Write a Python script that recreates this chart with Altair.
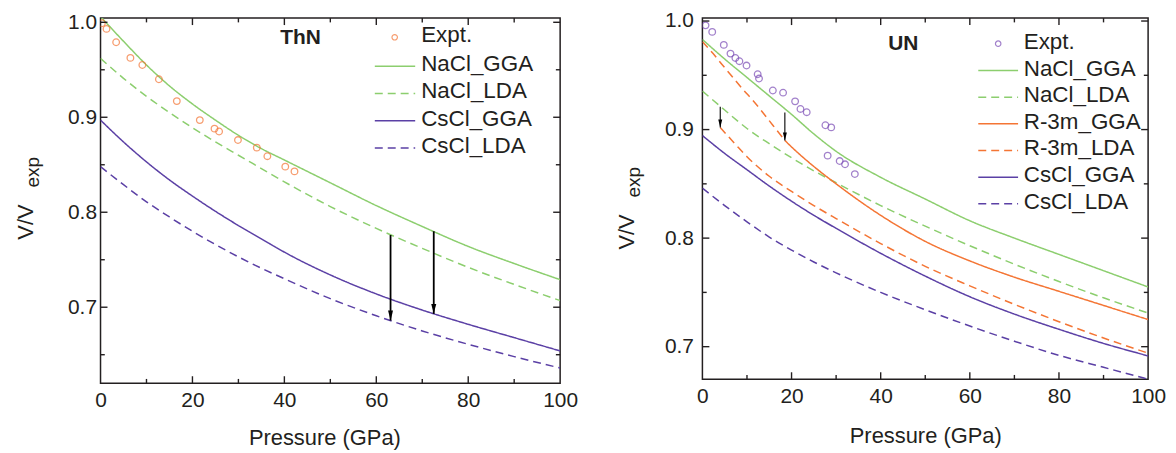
import altair as alt
import pandas as pd

FONT = "Liberation Sans, Arial, Helvetica, sans-serif"
INK = "#231f20"
GREEN = "#8cce6e"
ORANGE = "#f47534"
PURPLE = "#5b40a5"
PURPLE_PT = "#7b4cb6"

# ---------------- ThN data ----------------
thn_grid = [0, 5, 10, 15, 20, 25, 30, 35, 40, 50, 60, 70, 80, 90, 100]
thn_nacl_gga = [1.006, 0.980, 0.955, 0.933, 0.914, 0.897, 0.881, 0.867, 0.855, 0.831, 0.807, 0.785, 0.764, 0.746, 0.729]
thn_nacl_lda = [0.962, 0.941, 0.922, 0.905, 0.889, 0.874, 0.860, 0.846, 0.832, 0.806, 0.783, 0.762, 0.742, 0.724, 0.707]
thn_cscl_gga = [0.897, 0.874, 0.853, 0.834, 0.817, 0.801, 0.786, 0.772, 0.758, 0.734, 0.714, 0.697, 0.682, 0.668, 0.654]
thn_cscl_lda = [0.848, 0.829, 0.811, 0.795, 0.780, 0.766, 0.753, 0.741, 0.730, 0.709, 0.691, 0.675, 0.661, 0.648, 0.636]
thn_expt_p = [0.3, 1.3, 3.4, 6.5, 9.1, 12.7, 16.6, 21.6, 24.8, 25.8, 29.9, 34.0, 36.3, 40.2, 42.2]
thn_expt_v = [0.999, 0.993, 0.979, 0.9625, 0.955, 0.940, 0.917, 0.897, 0.888, 0.885, 0.876, 0.868, 0.859, 0.848, 0.843]
thn_arrow_p = [63.1, 72.5]
thn_arrow_from = [0.776, 0.780]
thn_arrow_to = [0.686, 0.693]

# ---------------- UN data ----------------
un_grid = [0, 5, 10, 15, 20, 25, 30, 40, 50, 60, 70, 80, 90, 100]
un_nacl_gga = [0.983, 0.965, 0.948, 0.931, 0.914, 0.896, 0.880, 0.856, 0.836, 0.816, 0.800, 0.785, 0.770, 0.755]
un_nacl_lda = [0.9355, 0.918, 0.901, 0.887, 0.874, 0.862, 0.851, 0.830, 0.811, 0.793, 0.776, 0.760, 0.745, 0.731]
un_r3m_gga_p = [18.5, 20, 25, 30, 40, 50, 60, 70, 80, 90, 100]
un_r3m_gga = [0.890, 0.884, 0.866, 0.850, 0.821, 0.797, 0.779, 0.764, 0.751, 0.738, 0.725]
un_r3m_low_p = [0, 2.4, 4.6, 6.85, 9.1, 11.3, 13.5, 15.8, 18.5]
un_r3m_low = [0.981, 0.970, 0.959, 0.948, 0.937, 0.927, 0.916, 0.904, 0.890]
un_r3m_lda_p = [4, 7.5, 10, 15, 20, 25, 30, 40, 50, 60, 70, 80, 90, 100]
un_r3m_lda = [0.902, 0.886, 0.875, 0.857, 0.843, 0.830, 0.818, 0.795, 0.774, 0.756, 0.739, 0.723, 0.708, 0.694]
un_cscl_gga = [0.8945, 0.878, 0.863, 0.848, 0.834, 0.821, 0.809, 0.786, 0.765, 0.746, 0.730, 0.716, 0.703, 0.6915]
un_cscl_lda = [0.846, 0.830, 0.815, 0.801, 0.789, 0.778, 0.768, 0.750, 0.734, 0.719, 0.705, 0.692, 0.681, 0.670]
un_expt_p = [0.7, 2.2, 4.8, 6.3, 7.4, 8.3, 9.9, 12.4, 12.7, 15.8, 18.1, 20.8, 22.0, 23.4, 27.6, 28.9, 28.1, 30.8, 32.0, 34.2]
un_expt_v = [0.996, 0.990, 0.978, 0.970, 0.966, 0.963, 0.959, 0.951, 0.947, 0.936, 0.934, 0.926, 0.919, 0.916, 0.904, 0.902, 0.876, 0.871, 0.868, 0.859]
un_arrow_p = [4.0, 18.5]
un_arrow_from = [0.921, 0.9157]
un_arrow_to = [0.902, 0.890]

x_major = [20, 40, 60, 80]
x_minor = [10, 30, 50, 70, 90]
x_labels = [0, 20, 40, 60, 80, 100]
y_labels = [0.7, 0.8, 0.9, 1.0]
thn_y_minor = [0.65, 0.75, 0.85, 0.95]
un_y_minor = [0.75, 0.85, 0.95]

STYLE = {
    "NaCl_GGA": (GREEN, False),
    "NaCl_LDA": (GREEN, True),
    "R-3m_GGA": (ORANGE, False),
    "R-3m_GGA_low": (ORANGE, True),
    "R-3m_LDA": (ORANGE, True),
    "CsCl_GGA": (PURPLE, False),
    "CsCl_LDA": (PURPLE, True),
}
ALL_NAMES = list(STYLE)
DASH = [8, 5]


def panel(curves, expt_p, expt_v, expt_color, arrow_p, arrow_from, arrow_to,
          legend_items, name, y_minor, g):
    W, H = g["W"], g["H"]
    y0, y1 = g["ydom"]
    xs = alt.Scale(domain=[0, 100], nice=False, zero=False)
    ys = alt.Scale(domain=g["ydom"], nice=False, zero=False)
    xax = alt.Axis(values=x_labels, title="Pressure (GPa)", orient="bottom", labelPadding=g["xlp"],
                   titlePadding=g["xtp"], titleX=g["ttx"], ticks=False, tickSize=0, domain=False,
                   grid=False, labelFlush=False, labelOverlap=False)
    yax = alt.Axis(values=y_labels, format=".1f", title=None, orient="left", labelPadding=g["ylp"],
                   ticks=False, tickSize=0, domain=False, grid=False, labelFlush=False,
                   labelOverlap=False)

    def X(f):
        return alt.X(f, scale=xs, axis=None)

    def Y(f):
        return alt.Y(f, scale=ys, axis=None)

    rows = []
    for s, (ps, vs) in curves.items():
        rows += [{"series": s, "P": p, "V": v} for p, v in zip(ps, vs)]
    line_df = pd.DataFrame(rows)
    colors = [STYLE[n][0] for n in ALL_NAMES]
    dashes = [DASH if STYLE[n][1] else [1, 0] for n in ALL_NAMES]

    layers = []
    lines = alt.Chart(line_df).mark_line(strokeWidth=1.5, clip=True, interpolate="monotone").encode(
        x=alt.X("P:Q", scale=xs, axis=xax), y=alt.Y("V:Q", scale=ys, axis=yax),
        color=alt.Color("series:N", scale=alt.Scale(domain=ALL_NAMES, range=colors), legend=None),
        strokeDash=alt.StrokeDash("series:N", scale=alt.Scale(domain=ALL_NAMES, range=dashes), legend=None),
        detail="series:N",
    )
    layers.append(lines)

    pts = alt.Chart(pd.DataFrame({"P": expt_p, "V": expt_v})).mark_point(
        shape="circle", filled=False, size=44, strokeWidth=1.3, color=expt_color, clip=True
    ).encode(x=X("P:Q"), y=Y("V:Q"))
    layers.append(pts)

    adf = pd.DataFrame({"P": arrow_p, "V1": arrow_from, "V2": arrow_to})
    shafts = alt.Chart(adf).mark_rule(color="black", strokeWidth=g["aw"]).encode(
        x=X("P:Q"), y=Y("V1:Q"), y2="V2:Q")
    heads = alt.Chart(adf).mark_point(shape="M-1,-4L1,-4L0,0Z", filled=True, color="black",
                                      opacity=1, size=g["hs"]).encode(x=X("P:Q"), y=Y("V2:Q"))
    layers += [shafts, heads]

    # inward ticks on all four sides
    def xt(vals, ya, yb):
        return alt.Chart(pd.DataFrame({"t": vals})).mark_rule(color=INK, strokeWidth=1.4).encode(
            x=X("t:Q"), y=alt.value(ya), y2=alt.value(yb))

    def yt(vals, xa, xb):
        return alt.Chart(pd.DataFrame({"t": vals})).mark_rule(color=INK, strokeWidth=1.4).encode(
            y=Y("t:Q"), x=alt.value(xa), x2=alt.value(xb))

    MJ, MN = 7, 4.3
    ymaj = [v for v in y_labels if v < y1 - 0.002]
    layers += [xt(x_major, H, H - MJ), xt(x_minor, H, H - MN),
               xt(x_major, 0, MJ), xt(x_minor, 0, MN),
               yt(ymaj, 0, MJ), yt(y_minor, 0, MN),
               yt(ymaj, W, W - MJ), yt(y_minor, W, W - MN)]

    # legend
    for i, item in enumerate(legend_items):
        ly = g["lfirst"] if i == 0 else g["l1"] + (i - 1) * g["ldy"]
        one = pd.DataFrame({"label": [item]})
        if item == "Expt.":
            layers.append(alt.Chart(one).mark_point(shape="circle", filled=False, size=30,
                                                    strokeWidth=1.2, color=expt_color).encode(
                x=alt.value(g["lcx"]), y=alt.value(ly)))
        else:
            col, dashed = STYLE[item]
            layers.append(alt.Chart(one).mark_rule(color=col, strokeWidth=1.5,
                                                   strokeDash=DASH if dashed else [1, 0]).encode(
                x=alt.value(g["lx0"]), x2=alt.value(g["lx1"]), y=alt.value(ly)))
        layers.append(alt.Chart(one).mark_text(align="left", baseline="middle", font=FONT,
                                               fontSize=22.5, color=INK).encode(
            x=alt.value(g["ltx"]), y=alt.value(ly - 2), text="label:N"))

    # panel name
    layers.append(alt.Chart(pd.DataFrame({"label": [name]})).mark_text(
        align="center", baseline="middle", font=FONT, fontSize=21, fontWeight="bold", color=INK
    ).encode(x=alt.value(g["nx"]), y=alt.value(g["ny"]), text="label:N"))

    # y title V/V_exp
    layers.append(alt.Chart(pd.DataFrame({"label": ["V/V"]})).mark_text(
        angle=270, align="center", baseline="alphabetic", font=FONT, fontSize=22, color=INK
    ).encode(x=alt.value(g["tvx"]), y=alt.value(g["tvy"]), text="label:N"))
    layers.append(alt.Chart(pd.DataFrame({"label": ["exp"]})).mark_text(
        angle=270, align="center", baseline="alphabetic", font=FONT, fontSize=19, color=INK
    ).encode(x=alt.value(g["tex"]), y=alt.value(g["tey"]), text="label:N"))

    return alt.layer(*layers).resolve_axis(x="independent", y="independent").properties(
        width=W, height=H)


TOP = 17  # page y of both plot tops
g_left = dict(W=462, H=367, ydom=[0.62, 1.0044], xlp=6, xtp=18, ttx=225, ylp=4, aw=1.8, hs=25,
              lfirst=19.3, l1=48.3, ldy=27.45, lcx=295.7, lx0=275.7, lx1=316.3, ltx=322.3,
              nx=201, ny=20, tvx=-68, tvy=205, tex=-62, tey=155)
g_right = dict(W=448, H=363, ydom=[0.67, 1.0027], xlp=6, xtp=20, ttx=224, ylp=9, aw=1.1, hs=16,
               lfirst=25.7, l1=52.7, ldy=26.8, lcx=297.3, lx0=277.3, lx1=317.3, ltx=323,
               nx=202, ny=26, tvx=-69, tvy=215, tex=-63, tey=165)

left = panel(
    {"NaCl_GGA": (thn_grid, thn_nacl_gga), "NaCl_LDA": (thn_grid, thn_nacl_lda),
     "CsCl_GGA": (thn_grid, thn_cscl_gga), "CsCl_LDA": (thn_grid, thn_cscl_lda)},
    thn_expt_p, thn_expt_v, ORANGE, thn_arrow_p, thn_arrow_from, thn_arrow_to,
    ["Expt.", "NaCl_GGA", "NaCl_LDA", "CsCl_GGA", "CsCl_LDA"], "ThN", thn_y_minor, g_left)

right = panel(
    {"NaCl_GGA": (un_grid, un_nacl_gga), "NaCl_LDA": (un_grid, un_nacl_lda),
     "R-3m_GGA": (un_r3m_gga_p, un_r3m_gga), "R-3m_GGA_low": (un_r3m_low_p, un_r3m_low),
     "R-3m_LDA": (un_r3m_lda_p, un_r3m_lda),
     "CsCl_GGA": (un_grid, un_cscl_gga), "CsCl_LDA": (un_grid, un_cscl_lda)},
    un_expt_p, un_expt_v, PURPLE_PT, un_arrow_p, un_arrow_from, un_arrow_to,
    ["Expt.", "NaCl_GGA", "NaCl_LDA", "R-3m_GGA", "R-3m_LDA", "CsCl_GGA", "CsCl_LDA"],
    "UN", un_y_minor, g_right)

LEFT = 101 - 8
CANVAS_W, CANVAS_H = 1166, 445
chart = alt.hconcat(left, right, spacing=143, bounds="flush").properties(
    autosize=alt.AutoSizeParams(type="none"),
    padding={"left": LEFT, "top": TOP - 8, "right": CANVAS_W - LEFT, "bottom": CANVAS_H - (TOP - 8)},
).configure_view(stroke=INK, strokeWidth=1.5).configure_axis(
    labelFont=FONT, labelFontSize=21, labelColor=INK, titleFont=FONT, titleFontSize=22,
    titleColor=INK, titleFontWeight="normal"
)

chart.save("out.html", embed_options={"renderer": "svg", "actions": False})
